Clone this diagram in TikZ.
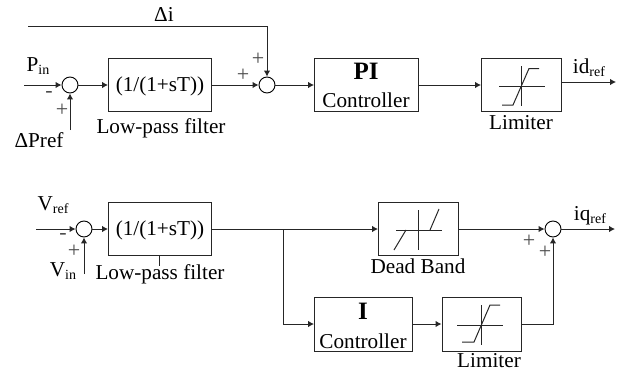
\documentclass[tikz,border=0pt]{standalone}
\usepackage{fontspec}
\setmainfont{Liberation Serif}
\usetikzlibrary{arrows.meta}
\newcommand{\lowsub}[1]{\raisebox{-3pt}{\fontsize{14}{15}\selectfont #1}}
\tikzset{
  blockbox/.style={draw=black!85,line width=1pt,inner sep=0pt,anchor=north west},
  sumnode/.style={draw=black,line width=0.9pt,circle,minimum size=16pt,inner sep=0pt},
  lbl/.style={inner sep=0pt,font=\fontsize{21.2}{23}\selectfont},
  pm/.style={inner sep=0pt,font=\fontsize{22}{24}\selectfont,text=black!70},
  conn/.style={draw=black!85,line width=1pt,-{Latex[length=6pt,width=6.5pt]}},
  plainline/.style={draw=black!85,line width=1pt},
  glyph/.style={draw=black!85,line width=1pt}
}
\begin{document}
\begin{tikzpicture}[x=1pt,y=-1pt]
\useasboundingbox (0,0) rectangle (631,372);
% upper row
\node[sumnode] (s1) at (70,85) {};
\node[sumnode] (s2) at (267,85) {};
\node[blockbox,minimum width=103pt,minimum height=53pt] (lp1) at (108,58) {};
\node[blockbox,minimum width=104pt,minimum height=53pt] (pi) at (314,58) {};
\node[blockbox,minimum width=80pt,minimum height=53pt] (lim1) at (481,58) {};
\node[lbl] (lp1t) at (160,86) {(1/(1+sT))};
\node[lbl] (lp1n) at (161,128) {Low-pass filter};
\node[lbl,font=\fontsize{25}{27}\selectfont\bfseries] (pit) at (366,71) {PI};
\node[lbl] (pic) at (366,100) {Controller};
\node[lbl] (lim1n) at (521,123) {Limiter};
\node[lbl] (di) at (164,14) {Δi};
\node[lbl] (pin) at (38,66) {P\lowsub{in}};
\node[lbl] (dpref) at (39,140) {ΔPref};
\node[lbl] (idref) at (589,68) {id\lowsub{ref}};
\node[pm] at (49,94) {-};
\node[pm] at (62,110) {+};
\node[pm] at (243,75) {+};
\node[pm] at (258,59) {+};
\coordinate (a) at (24,85);
\coordinate (b) at (70,130);
\coordinate (c) at (28,26);
\coordinate (d) at (267,26);
\coordinate (e) at (561,82);
\coordinate (f) at (616,82);
\draw[conn] (a) -- (s1.west);
\draw[conn] (b) -- (s1.south);
\draw[conn] (s1.east) -- (lp1.west |- s1);
\draw[conn] (lp1.east |- s2) -- (s2.west);
\draw[conn] (c) -- (d) -- (s2.north);
\draw[conn] (s2.east) -- (pi.west |- s2);
\draw[conn] (pi.east |- s2) -- (lim1.west |- s2);
\draw[conn] (e) -- (f);
\draw[glyph] (499,86) -- (545,86) (521,66) -- (521,106);
\draw[glyph] (502,105) -- (513,105) -- (529,68.5) -- (539,68.5);
% lower row
\node[sumnode] (s3) at (84,229) {};
\node[sumnode] (s4) at (553,229) {};
\node[blockbox,minimum width=103pt,minimum height=53pt] (lp2) at (108,202) {};
\node[blockbox,minimum width=80pt,minimum height=53pt] (db) at (378,202) {};
\node[blockbox,minimum width=98pt,minimum height=54pt] (ic) at (314,297) {};
\node[blockbox,minimum width=79.5pt,minimum height=54pt] (lim2) at (441.5,297) {};
\node[lbl] (lp2t) at (160,230) {(1/(1+sT))};
\node[lbl] (lp2n) at (160,274) {Low-pass filter};
\node[lbl] (dbn) at (418,266) {Dead Band};
\node[lbl,font=\fontsize{25}{27}\selectfont\bfseries] (it) at (363,311) {I};
\node[lbl] (icc) at (363,341) {Controller};
\node[lbl] (lim2n) at (489,361) {Limiter};
\node[lbl] (vref) at (53,205) {V\lowsub{ref}};
\node[lbl] (vin) at (63,271) {V\lowsub{in}};
\node[lbl] (iqref) at (590,216) {iq\lowsub{ref}};
\node[pm] at (63,236) {-};
\node[pm] at (74,251) {+};
\node[pm] at (529,241) {+};
\node[pm] at (545,252) {+};
\coordinate (g) at (36,229);
\coordinate (h) at (84,274);
\coordinate (j) at (283,229);
\coordinate (k) at (283,324);
\coordinate (m) at (553,324);
\coordinate (n) at (615,229);
\coordinate (p) at (159,255);
\coordinate (q) at (159,266);
\draw[conn] (g) -- (s3.west);
\draw[conn] (h) -- (s3.south);
\draw[conn] (s3.east) -- (lp2.west |- s3);
\draw[conn] (lp2.east |- s3) -- (db.west |- s3);
\draw[conn] (j) -- (k) -- (ic.west |- k);
\draw[conn] (ic.east |- k) -- (lim2.west |- k);
\draw[conn] (lim2.east |- m) -- (m) -- (s4.south);
\draw[conn] (db.east |- s4) -- (s4.west);
\draw[conn] (s4.east) -- (n);
\draw[plainline] (p) -- (q);
\draw[glyph] (396,230) -- (442,230) (418,210) -- (418,250);
\draw[glyph] (394,250) -- (406,230) (430,230) -- (439,209);
\draw[glyph] (457,325) -- (503,325) (481,305) -- (481,345);
\draw[glyph] (462,342) -- (474,342) -- (490,305) -- (500,305);
\end{tikzpicture}
\end{document}
